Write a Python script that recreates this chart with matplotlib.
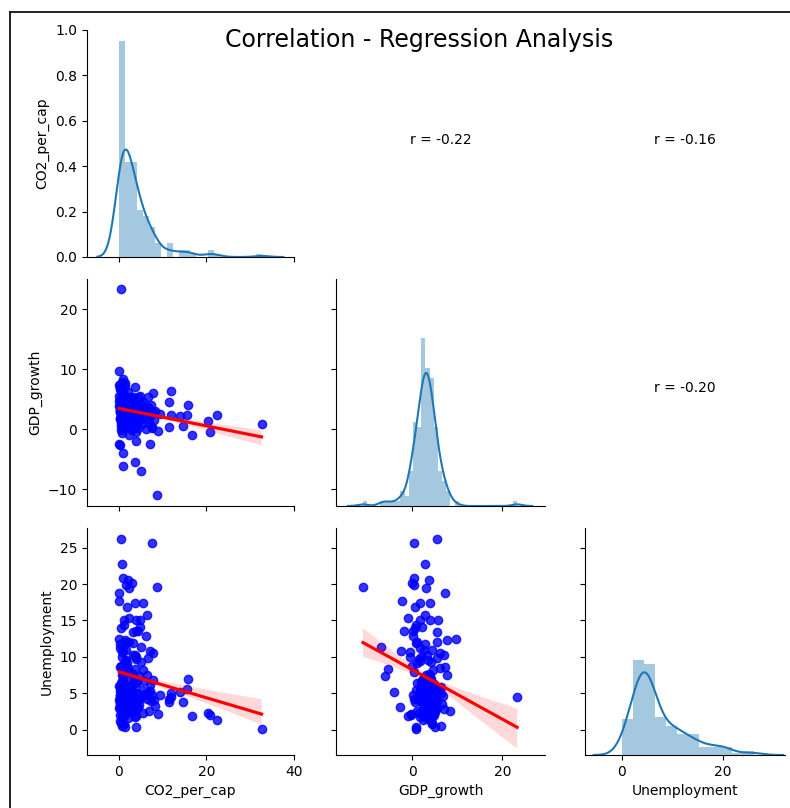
import numpy as np
import matplotlib
matplotlib.use("Agg")
import matplotlib.pyplot as plt
from matplotlib.lines import Line2D
import seaborn as sns

# ---------------- data ----------------
co2_per_cap = [
    0.46, 8.8, 32.6, 22.3, 20.4, 20.8, 16.6, 15.8, 15.5, 14.6,
    13.9, 11.8, 11.5, 11.8, 11.5, 9.0, 7.2, 3.9, 0.85, 0.85,
    3.6, 5.0, 0.1, 0.1, 9.4, 7.8, 7.6, 0.46, 0.8, 6.3,
    5.5, 3.6, 0.9, 2.0, 2.9, 2.4, 1.5, 0.1, 1.9, 2.4,
    3.9, 4.7, 1.2, 0.5, 4.7, 3.2, 1.3, 1.6, 2.4, 0.3,
    0.2, 0.9, 3.3, 4.0, 6.7, 0.6, 1.7, 0.3, 3.8, 3.6,
    1.3, 0.7,
    0.05, 0.1, 0.15, 0.2, 0.25, 0.3, 0.35, 0.4, 0.45, 0.5,
    0.55, 0.6, 0.65, 0.7, 0.75, 0.8, 0.85, 0.9, 0.95, 1.0,
    0.1, 0.2, 0.3, 0.4, 0.5, 0.6, 0.7, 0.8, 0.9, 1.0,
    1.1, 1.2, 1.3, 1.4, 1.5, 1.6, 1.1, 1.3, 1.45, 1.6,
    0.15, 0.35, 0.55, 0.75, 0.95, 1.15, 1.35, 1.55, 0.25, 0.65,
    1.7, 1.8, 1.9, 2.0, 2.1, 2.2, 2.3, 2.4, 2.5, 2.6,
    2.7, 2.8, 2.9, 3.0, 3.1, 3.2, 3.3, 3.4, 3.5, 3.6,
    3.7, 3.8, 3.9, 4.0, 4.1, 4.2, 4.3, 4.4, 4.5, 4.6,
    1.75, 2.15, 2.55, 2.95, 3.35, 3.75, 4.15, 2.25, 3.05, 4.55,
    4.8, 5.0, 5.2, 5.4, 5.6, 5.8, 6.0, 6.2, 6.4, 6.6,
    6.8, 7.0, 7.2, 7.4, 7.6, 7.8, 8.0, 8.2, 5.5, 6.5,
]
gdp_growth = [
    23.3, -11.0, 0.8, 2.3, 1.4, -0.4, -0.95, 4.0, 2.4, 0.55,
    2.2, 6.3, 4.6, 2.4, 0.3, -0.3, -2.5, -1.9, -4.0, -6.1,
    -5.4, -7.0, 9.6, -2.4, 2.6, 6.1, 0.4, 5.4, 2.7, 2.8,
    3.9, 1.7, 0.4, 3.7, -0.1, 3.0, 0.4, 7.3, 0.6, -0.9,
    3.9, 5.6, 1.7, 0.6, 2.1, 5.4, 7.6, 5.4, 1.0, 2.8,
    1.7, 4.3, 3.2, -0.5, 5.4, 2.0, 3.5, -2.7, 0.7, 1.6,
    5.0, 6.4,
    3.9, 5.5, 1.9, 6.6, 4.1, 2.8, 7.3, 1.0, 4.8, 4.4,
    -0.1, 5.9, 3.5, 4.6, 2.3, 7.8, 4.1, 5.2, 1.6, 6.3,
    4.7, 3.2, 6.8, 3.7, 2.6, 4.3, -0.6, 5.0, 2.9, 8.3,
    3.3, 4.3, 1.7, 5.3, 2.9, 4.0, 0.9, 3.9, 7.1, 2.3,
    3.2, 3.8, 2.7, 4.7, 3.4, 3.0, 4.2, 2.5, 4.9, 2.1,
    3.1, 1.1, 4.9, 3.3, 6.2, 2.4, 3.8, 0.4, 5.4, 3.1,
    4.3, 1.7, 3.5, 2.9, 5.1, 0.8, 3.8, 4.7, 2.3, 3.6,
    7.0, 1.5, 2.5, 4.2, 2.7, 3.2, 0.2, 5.3, 3.0, 3.9,
    2.9, 3.6, 2.0, 4.4, 2.6, 3.4, 1.9, 4.6, 3.3, 2.4,
    1.6, 4.2, 0.9, 2.5, 4.6, 2.2, 3.0, 0.1, 3.0, 3.7,
    1.1, 2.3, 2.2, 4.1, 0.2, 2.9, 1.5, 3.0, 2.5, 1.7,
]
unemployment = [
    4.5, 19.6, 0.1, 1.3, 2.3, 2.0, 1.8, 6.9, 5.6, 3.8,
    5.2, 5.0, 3.8, 4.5, 4.2, 2.2, 10.8, 13.6, 5.2, 7.4,
    8.3, 11.4, 12.4, 17.6, 4.8, 10.5, 25.6, 26.2, 22.7, 15.7,
    17.4, 17.4, 20.8, 20.6, 20.2, 19.4, 19.8, 18.7, 16.9, 15.3,
    15.1, 15.0, 15.0, 13.9, 14.1, 13.4, 12.3, 12.1, 12.0, 11.8,
    11.2, 11.0, 10.3, 10.0, 9.9, 10.0, 9.5, 3.1, 0.3, 1.7,
    0.4, 0.5,
    4.1, 2.9, 5.8, 3.5, 1.2, 5.3, 8.6, 6.4, 6.2, 0.9,
    8.7, 5.7, 3.9, 1.8, 5.1, 7.5, 6.9, 4.4, 4.9, 5.9,
    6.0, 4.8, 4.6, 5.4, 3.3, 4.2, 10.6, 2.4, 5.6, 2.6,
    5.2, 0.7, 9.4, 3.5, 3.1, 4.5, 14.4, 2.0, 2.8, 3.9,
    4.4, 3.6, 4.3, 4.0, 3.2, 5.9, 3.4, 10.9, 2.0, 6.7,
    4.5, 9.1, 5.1, 1.6, 8.5, 7.0, 2.7, 7.9, 3.9, 6.0,
    4.3, 5.4, 5.6, 3.6, 5.1, 11.9, 7.6, 2.5, 6.9, 3.2,
    10.2, 9.7, 1.9, 6.4, 3.8, 5.0, 13.6, 2.9, 4.1, 7.3,
    3.7, 5.5, 4.9, 3.0, 4.6, 3.8, 6.6, 2.4, 6.2, 3.4,
    4.4, 9.3, 5.5, 2.3, 8.2, 6.7, 4.9, 12.8, 7.5, 5.0,
    2.6, 5.3, 6.1, 3.9, 4.7, 6.8, 4.0, 3.3, 4.6, 4.2,
]

variables = ["CO2_per_cap", "GDP_growth", "Unemployment"]
x_tick_values = [[0, 20, 40], [0, 20], [0, 20]]
row_tick_values = [[0.0, 0.2, 0.4, 0.6, 0.8, 1.0], [-10, 0, 10, 20], [0, 5, 10, 15, 20, 25]]
title = "Correlation - Regression Analysis"

# ---------------- layout ----------------
W, H = 790, 808
fig, axes = plt.subplots(3, 3, figsize=(W / 100, H / 100), dpi=100,
                         sharex="col", sharey="row")
col_px = [(87, 294), (336, 545), (585, 785)]
row_px = [(30, 257), (279, 506), (528, 755)]
for i in range(3):
    for j in range(3):
        x0, x1 = col_px[j]
        y0, y1 = row_px[i]
        axes[i, j].set_position([x0 / W, 1 - y1 / H, (x1 - x0) / W, (y1 - y0) / H])

data = [np.array(co2_per_cap), np.array(gdp_growth), np.array(unemployment)]
col_lims = [(-7.3, 40.0), (-17.0, 29.5), (-7.3, 32.3)]
row_lims = [(0.0, 1.0), (-12.8, 25.0), (-3.5, 27.7)]


def fd_bins(a):
    iqr = np.subtract.reduce(np.nanpercentile(a, [75, 25]))
    h = 2 * iqr / (len(a) ** (1 / 3))
    return min(int(np.ceil((a.max() - a.min()) / h)), 50)


def kde_curve(a):
    bw = a.std(ddof=1) * len(a) ** (-1 / 5)
    grid = np.linspace(a.min() - 3 * bw, a.max() + 3 * bw, 200)
    dens = np.exp(-0.5 * ((grid[:, None] - a[None, :]) / bw) ** 2).sum(1)
    dens /= (len(a) * bw * np.sqrt(2 * np.pi))
    return grid, dens


# diagonal: twin axes whose y scales are shared among the three diagonals
twins = []
for k in range(3):
    ax = axes[k, k]
    tw = ax.twinx()
    tw.set_position(ax.get_position())
    if twins:
        tw.sharey(twins[0])
    twins.append(tw)

for i in range(3):
    for j in range(3):
        ax = axes[i, j]
        if i == j:
            tw = twins[i]
            a = data[i]
            tw.hist(a, bins=fd_bins(a), density=True, color="C0", alpha=0.4)
            gx, gy = kde_curve(a)
            tw.plot(gx, gy, color="C0", lw=1.5)
            tw.set_axis_off()
        elif i > j:
            sns.regplot(x=data[j], y=data[i], ax=ax, color="blue",
                        line_kws={"color": "red"}, ci=68, seed=0)
            ax.set_xlabel("")
            ax.set_ylabel("")
        else:
            r = np.corrcoef(data[i], data[j])[0, 1]
            ax.annotate(f"r = {r:.2f}", xy=(0.5, 0.5), xycoords=ax.transAxes,
                        ha="center", fontsize=10)
            ax.set_axis_off()

twins[0].relim()
twins[0].autoscale_view()

for i in range(3):
    for j in range(3):
        ax = axes[i, j]
        for s in ("top", "right"):
            ax.spines[s].set_visible(False)
for j in range(3):
    axes[2, j].set_xlim(*col_lims[j])
    axes[2, j].set_xticks(x_tick_values[j])
    axes[2, j].set_xlabel(variables[j])
for i in range(3):
    axes[i, 0].set_ylim(*row_lims[i])
    axes[i, 0].set_yticks(row_tick_values[i])
    axes[i, 0].set_ylabel(variables[i])
axes[0, 0].set_yticklabels([f"{v:.1f}" for v in row_tick_values[0]])

fig.text(419 / W, 1 - 46.5 / H, title, fontsize=17, ha="center", va="baseline")

# frame of the original screenshot
fig.add_artist(Line2D([10 / W, 10 / W], [0, 1 - 11.5 / H], color="#111111",
                      lw=1.3, transform=fig.transFigure))
fig.add_artist(Line2D([10 / W, 1], [1 - 11.5 / H, 1 - 11.5 / H], color="#111111",
                      lw=1.3, transform=fig.transFigure))

fig.savefig("out.png", dpi=100)
